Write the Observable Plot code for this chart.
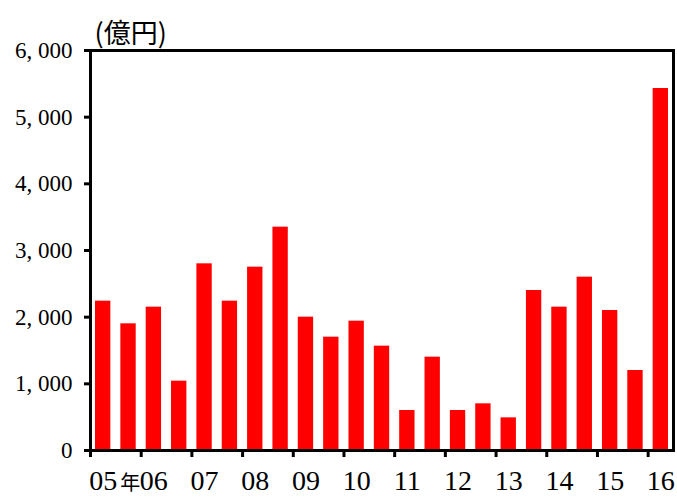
<!DOCTYPE html>
<html>
<head>
<meta charset="utf-8">
<script src="https://cdn.jsdelivr.net/npm/d3@7"></script>
<script src="https://cdn.jsdelivr.net/npm/@observablehq/plot@0.6"></script>
<style>
  html, body { margin: 0; padding: 0; background: #fff; }
  svg text.serif, svg g.serif text { font-family: "Liberation Serif", "DejaVu Serif", "Times New Roman", serif; }
</style>
</head>
<body>
<div id="chart"></div>
<script>
// Half-year values, 2005 H1 … 2016 H1 (億円)
const values = [2240, 1900, 2150, 1040, 2800, 2240, 2750, 3350, 2000, 1700, 1940, 1565,
                600, 1400, 600, 700, 490, 2400, 2150, 2600, 2100, 1200, 5430];
const years = ["05", "06", "07", "08", "09", "10", "11", "12", "13", "14", "15", "16"];
const yTicks = [0, 1000, 2000, 3000, 4000, 5000, 6000];
const unitLabel = "(億円)";
const yearSuffix = "年";

const idx = values.map((d, i) => i);
const yearStart = years.map((y, k) => 2 * k);        // index of first half of each year
const yearLabelPos = years.map((y, k) => 2 * k + 0.5); // center of first-half bar

const serif = "'Liberation Serif', 'DejaVu Serif', serif";
const cjk = "'Noto Sans CJK JP', sans-serif";

const chart = Plot.plot({
  width: 677,
  height: 497,
  marginLeft: 90,
  marginRight: 4,
  marginTop: 50,
  marginBottom: 47,
  style: { background: "#fff", color: "#000", overflow: "visible" },
  x: { type: "linear", domain: [0, values.length] },
  y: { domain: [0, 6000] },
  marks: [
    Plot.rectY(idx, {
      x1: i => i, x2: i => i + 1, y1: 0, y2: i => values[i],
      fill: "#ff0000", insetLeft: 5, insetRight: 5
    }),
    Plot.axisY({
      ticks: yTicks, tickSize: 6, tickPadding: 12, strokeWidth: 3,
      fontSize: 23, fontFamily: serif, className: "serif", label: null,
      tickFormat: d => d3.format(",")(d).replace(",", ", ")
    }),
    Plot.axisX({
      ticks: yearStart, tickSize: 7, strokeWidth: 3, tickFormat: () => "", label: null
    }),
    Plot.axisX({
      ticks: yearLabelPos, tickSize: 0, tickPadding: 20, fontSize: 28, fontFamily: serif,
      className: "serif", label: null,
      tickFormat: (d, k) => years[k]
    }),
    Plot.text([yearSuffix], {
      x: yearLabelPos[0], frameAnchor: "bottom", dx: 27, dy: 39, lineAnchor: "bottom",
      fontFamily: cjk, fontSize: 20, fill: "#000"
    }),
    Plot.frame({ stroke: "#000", strokeWidth: 3 }),
    Plot.text([unitLabel], {
      frameAnchor: "top-left", dx: 4, dy: -8, lineAnchor: "bottom", textAnchor: "start",
      fontFamily: cjk, fontSize: 27, fill: "#000"
    })
  ]
});
document.getElementById("chart").appendChild(chart);
</script>
</body>
</html>
